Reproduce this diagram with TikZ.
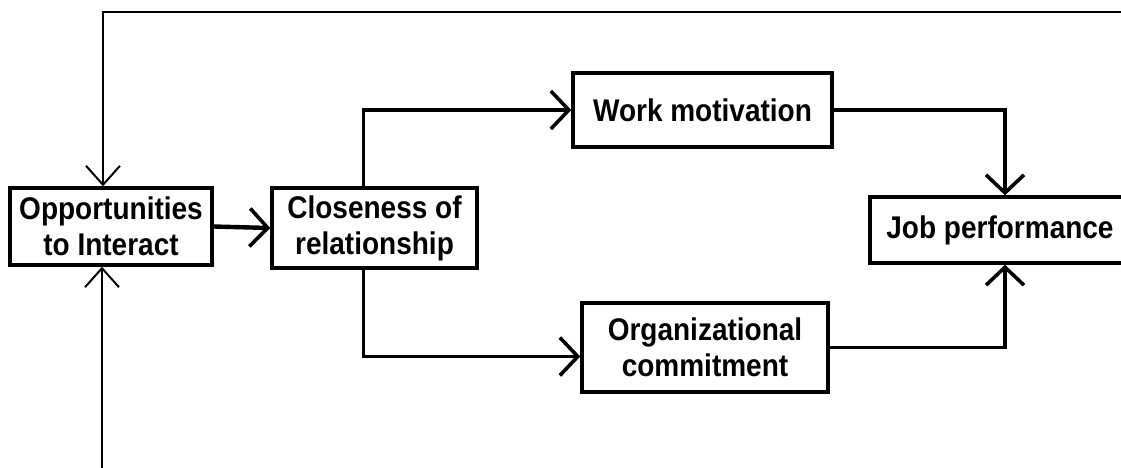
\documentclass[tikz,border=0pt]{standalone}
\usepackage{fontspec}
\usepackage{graphicx}
\setmainfont{Liberation Sans}
\usetikzlibrary{arrows.meta}
% taller lettering
\newcommand{\tl}[1]{\scalebox{1}[1.12]{#1}}
\begin{document}
\begin{tikzpicture}[x=1pt,y=-1pt,
  box/.style={draw, line width=3.4pt, minimum width=#1, inner sep=0pt, align=center,
    font=\bfseries\fontsize{28}{36}\selectfont},
  link/.style={line width=3.3pt, -{Straight Barb[length=18pt,width=38pt,line width=3.6pt]}},
  loop/.style={line width=2.3pt, -{Straight Barb[length=19pt,width=34pt,line width=2pt]}}]
  \useasboundingbox (0,0) rectangle (1121,467);
  % constructs
  \node[box=202pt, minimum height=77pt] (opp) at (111,226.5) {\tl{Opportunities}\\\tl{to Interact}};
  \node[box=205pt, minimum height=80pt] (clo) at (374.5,228) {\tl{Closeness of}\\\tl{relationship}};
  \node[box=259pt, minimum height=74pt] (work) at (702.5,110) {\tl{Work motivation}};
  \node[box=246pt, minimum height=89pt] (org) at (705,347.5) {\tl{Organizational}\\\tl{commitment}};
  \node[box=260pt, minimum height=66pt] (job) at (1000,230) {\tl{Job performance}};
  % feedback loop ends
  \coordinate (topR) at (1130,12);
  \coordinate (botS) at (102,475);
  % paths
  \draw[link, line width=4.4pt] (opp.east) -- (clo.west);
  \draw[link] ([xshift=-11pt]clo.north) |- (work.west);
  \draw[link] ([xshift=-11pt]clo.south) |- ([yshift=-9pt]org.west);
  \draw[link] (work.east) -| ([xshift=5pt]job.north);
  \draw[link] (org.east) -| ([xshift=5pt]job.south);
  \draw[loop] (topR) -| ([xshift=-8pt]opp.north);
  \draw[loop] (botS) -- (botS |- opp.south);
\end{tikzpicture}
\end{document}
